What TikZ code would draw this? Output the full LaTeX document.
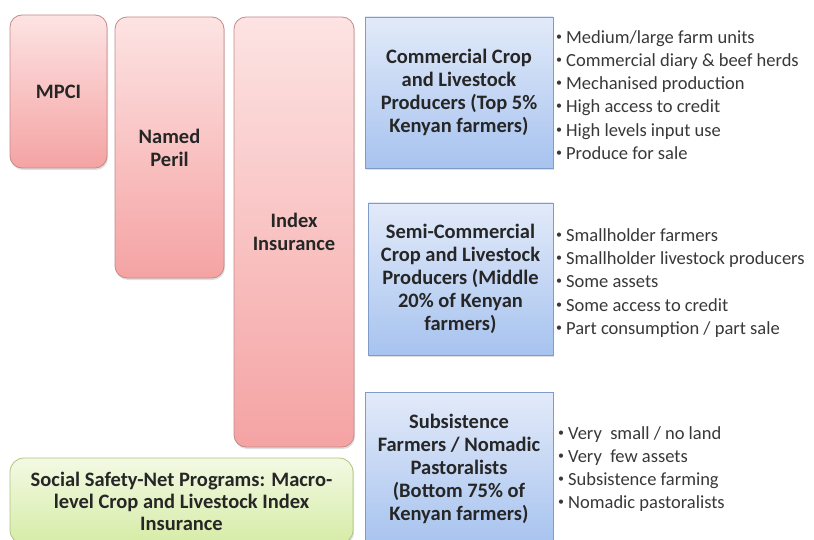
\documentclass[tikz,border=0pt]{standalone}
\usepackage{fontspec}
\setmainfont{Carlito}
\usepackage{xcolor}
\usetikzlibrary{shadows}
\definecolor{pinktop}{HTML}{FDE3E3}
\definecolor{pinkbottom}{HTML}{F5A3A3}
\definecolor{pinkedge}{HTML}{C48A8A}
\definecolor{bluetop}{HTML}{E2EAF9}
\definecolor{bluebottom}{HTML}{A7C3EF}
\definecolor{blueedge}{HTML}{7F9CC8}
\definecolor{greentop}{HTML}{F3F9E4}
\definecolor{greenbottom}{HTML}{D6ECA6}
\definecolor{greenedge}{HTML}{AFC47E}
\definecolor{darktext}{HTML}{262626}
\definecolor{listtext}{HTML}{383838}
\newcommand{\smallbul}{\raisebox{0.35ex}{\fontsize{12}{12}\selectfont\textbullet}\hspace{4pt}}
\tikzset{
pinkboxv1/.style={rectangle, rounded corners=12pt, draw=pinkedge, top color=pinktop, bottom color=pinkbottom, thick, drop shadow={opacity=0.25, shadow xshift=1pt, shadow yshift=-2pt}, align=center, text=darktext, font=\bfseries\fontsize{20.5}{23}\selectfont},
blueboxv1/.style={rectangle, draw=blueedge, top color=bluetop, bottom color=bluebottom, thick, drop shadow={opacity=0.25, shadow xshift=1pt, shadow yshift=-2pt}, align=center, text=darktext, font=\bfseries\fontsize{20.5}{23}\selectfont},
greenboxv1/.style={rectangle, rounded corners=14pt, draw=greenedge, top color=greentop, bottom color=greenbottom, thick, drop shadow={opacity=0.25, shadow xshift=1pt, shadow yshift=-2pt}, align=center, text=darktext, font=\bfseries\fontsize{20.5}{22}\selectfont},
bulletlistv1/.style={anchor=west, align=left, inner sep=0pt, text=listtext, font=\fontsize{18.5}{23.2}\selectfont},
}

\begin{document}
\begin{tikzpicture}[x=1pt,y=-1pt]
\useasboundingbox (0,0) rectangle (814,540);
% insurance products
\node[pinkboxv1, minimum width=97pt, minimum height=153pt] at (58.5,91.5) (mpci) {MPCI};
\node[pinkboxv1, minimum width=109pt, minimum height=261pt] at (169.5,147.5) (named) {Named\\Peril};
\node[pinkboxv1, minimum width=120pt, minimum height=430pt] at (294,232) (index) {Index\\Insurance};
\node[greenboxv1, minimum width=343pt, minimum height=86pt] at (181.5,501) (safetynet) {Social Safety-Net Programs: Macro-\\level Crop and Livestock Index\\Insurance};

% farmer groups
\node[blueboxv1, minimum width=188pt, minimum height=151pt] at (459,92.5) (commercial) {Commercial Crop\\and Livestock\\Producers (Top 5\%\\Kenyan farmers)};
\node[blueboxv1, minimum width=185pt, minimum height=152pt] at (460.5,279) (semi) {Semi-Commercial\\Crop and Livestock\\Producers (Middle\\20\% of Kenyan\\farmers)};
\node[blueboxv1, minimum width=188pt, minimum height=153pt] at (459,469) (subsistence) {Subsistence\\Farmers / Nomadic\\Pastoralists\\(Bottom 75\% of\\Kenyan farmers)};

% characteristics
\node[bulletlistv1] at (556,95) (commerciallist) {\smallbul Medium/large farm units\\\smallbul Commercial diary \& beef herds\\\smallbul Mechanised production\\\smallbul High access to credit\\\smallbul High levels input use\\\smallbul Produce for sale};
\node[bulletlistv1] at (556,283) (semilist) {\smallbul Smallholder farmers\\\smallbul Smallholder livestock producers\\\smallbul Some assets\\\smallbul Some access to credit\\\smallbul Part consumption / part sale};
\node[bulletlistv1] at (558,469) (subsistencelist) {\smallbul Very\ \ small / no land\\\smallbul Very\ \ few assets\\\smallbul Subsistence farming\\\smallbul Nomadic pastoralists};
\end{tikzpicture}
\end{document}
